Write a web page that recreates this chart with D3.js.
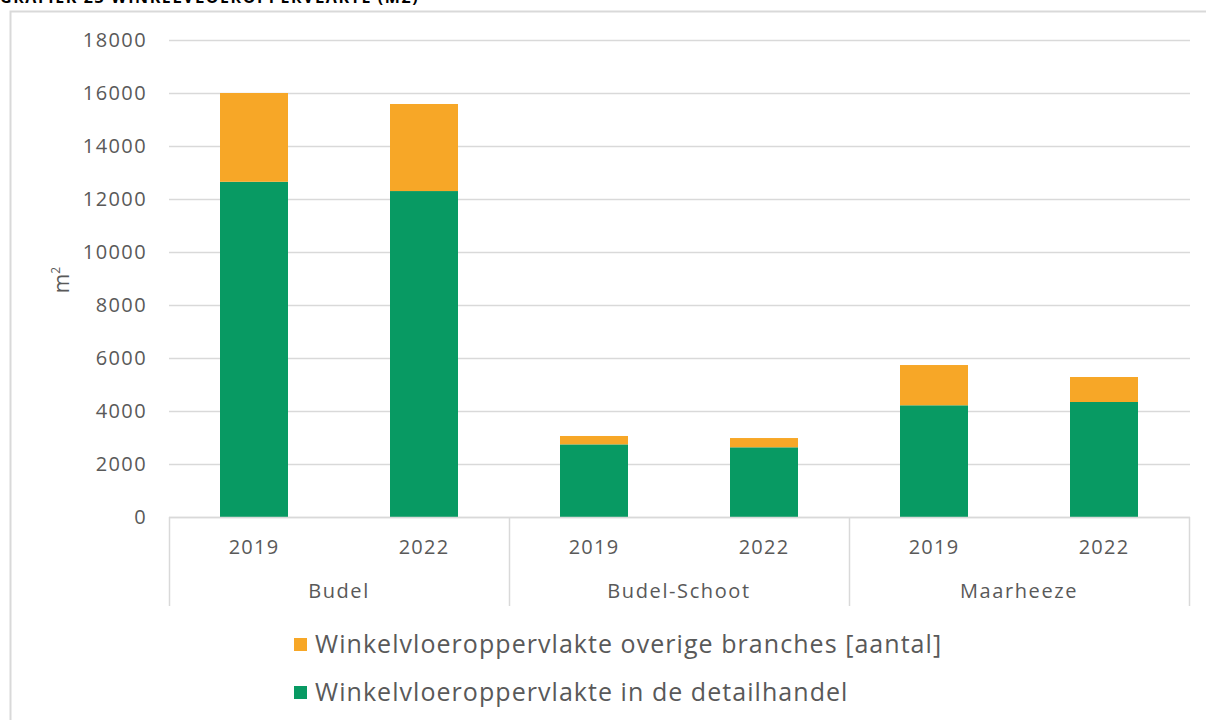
<!DOCTYPE html>
<html>
<head>
<meta charset="utf-8">
<script src="https://cdn.jsdelivr.net/npm/d3@7"></script>
<style>
  body { margin: 0; background: #fff; }
  svg { font-family: "Open Sans", sans-serif; }
</style>
</head>
<body>
<div id="chart"></div>
<script>
// data
const groups = ["Budel", "Budel-Schoot", "Maarheeze"];
const years = ["2019", "2022"];
const detailhandel = [12650, 12300, 2740, 2630, 4215, 4340];
const overige = [3350, 3285, 317, 350, 1520, 943];
const seriesNames = ["Winkelvloeroppervlakte in de detailhandel", "Winkelvloeroppervlakte overige branches [aantal]"];
const yTicks = [0, 2000, 4000, 6000, 8000, 10000, 12000, 14000, 16000, 18000];

const width = 1206, height = 720;
const colors = ["#089a63", "#f7a727"];
const textCol = "#595959";

// build rows for stacking
var rows = [];
groups.forEach(function (g, gi) {
  years.forEach(function (y, yi) {
    var i = gi * years.length + yi;
    rows.push({ key: g + "|" + y, group: g, year: y, det: detailhandel[i], ov: overige[i] });
  });
});

var svg = d3.select("#chart").append("svg")
  .attr("width", width)
  .attr("height", height);

// title (cut off at top like the source)
svg.append("text")
  .attr("x", 0).attr("y", 3)
  .text("GRAFIEK 23 WINKELVLOEROPPERVLAKTE (M2)")
  .style("font-size", "16px").style("font-weight", "bold")
  .style("letter-spacing", "1.6px").style("fill", "#000");

// frame
svg.append("rect")
  .attr("x", 10.5).attr("y", 11.5)
  .attr("width", 1210).attr("height", 720)
  .attr("fill", "none").attr("stroke", "#d9d9d9").attr("stroke-width", 2);

var x = d3.scaleBand()
  .domain(rows.map(function (d) { return d.key; }))
  .range([169, 1189])
  .paddingInner(0.6).paddingOuter(0.3);

var y = d3.scaleLinear().domain([0, 18000]).range([517, 40]);

// gridlines
svg.append("g")
  .selectAll("line")
  .data(yTicks)
  .enter().append("line")
  .attr("x1", 169).attr("x2", 1190)
  .attr("y1", function (d) { return Math.round(y(d)) + 0.5; })
  .attr("y2", function (d) { return Math.round(y(d)) + 0.5; })
  .attr("stroke", "#d9d9d9").attr("stroke-width", 1.5);

// y axis labels
var yAxis = d3.axisLeft(y).tickValues(yTicks).tickSize(0).tickPadding(0).tickFormat(d3.format("d"));
var yg = svg.append("g").attr("transform", "translate(147,0)").call(yAxis);
yg.select(".domain").remove();
yg.selectAll("text")
  .style("font-size", "20px").style("fill", textCol)
  .style("letter-spacing", "1.4px")
  .style("font-family", "'Open Sans', sans-serif");

// y axis title
var yt = svg.append("text")
  .attr("transform", "translate(69,280) rotate(-90)")
  .attr("text-anchor", "middle")
  .style("font-size", "21px").style("fill", textCol);
yt.append("tspan").text("m");
yt.append("tspan").attr("dy", -9).style("font-size", "12px").text("2");

// stacked bars
var stack = d3.stack().keys(["det", "ov"]);
var stacked = stack(rows);

svg.append("g")
  .selectAll("g")
  .data(stacked)
  .enter().append("g")
  .attr("fill", function (d, i) { return colors[i]; })
  .selectAll("rect")
  .data(function (d) { return d; })
  .enter().append("rect")
  .attr("x", function (d) { return x(d.data.key); })
  .attr("width", x.bandwidth())
  .attr("y", function (d) { return y(d[1]); })
  .attr("height", function (d) { return y(d[0]) - y(d[1]); });

// category axis
var axisCol = "#d9d9d9";
svg.append("line")
  .attr("x1", 169).attr("x2", 1190).attr("y1", 517.5).attr("y2", 517.5)
  .attr("stroke", axisCol).attr("stroke-width", 1.5);

var groupW = (1189 - 169) / groups.length;
var dividers = d3.range(groups.length + 1).map(function (i) { return 169 + i * groupW; });
svg.append("g")
  .selectAll("line")
  .data(dividers)
  .enter().append("line")
  .attr("x1", function (d) { return Math.round(d) + 0.5; })
  .attr("x2", function (d) { return Math.round(d) + 0.5; })
  .attr("y1", 517).attr("y2", 606)
  .attr("stroke", axisCol).attr("stroke-width", 1.5);

svg.append("g")
  .selectAll("text")
  .data(rows)
  .enter().append("text")
  .attr("x", function (d) { return x(d.key) + x.bandwidth() / 2; })
  .attr("y", 554)
  .attr("text-anchor", "middle")
  .text(function (d) { return d.year; })
  .style("font-size", "20px").style("letter-spacing", "1.2px").style("fill", textCol);

svg.append("g")
  .selectAll("text")
  .data(groups)
  .enter().append("text")
  .attr("x", function (d, i) { return 169 + (i + 0.5) * groupW; })
  .attr("y", 598)
  .attr("text-anchor", "middle")
  .text(function (d) { return d; })
  .style("font-size", "20px").style("letter-spacing", "1.6px").style("fill", textCol);

// legend
var legendItems = [
  { name: seriesNames[1], color: colors[1] },
  { name: seriesNames[0], color: colors[0] }
];
var lg = svg.append("g")
  .selectAll("g")
  .data(legendItems)
  .enter().append("g")
  .attr("transform", function (d, i) { return "translate(294," + (638 + i * 48) + ")"; });
lg.append("rect").attr("width", 13).attr("height", 13).attr("fill", function (d) { return d.color; });
lg.append("text")
  .attr("x", 21).attr("y", 15)
  .text(function (d) { return d.name; })
  .style("font-size", "25px").style("letter-spacing", "1.05px").style("fill", textCol);
</script>
</body>
</html>
